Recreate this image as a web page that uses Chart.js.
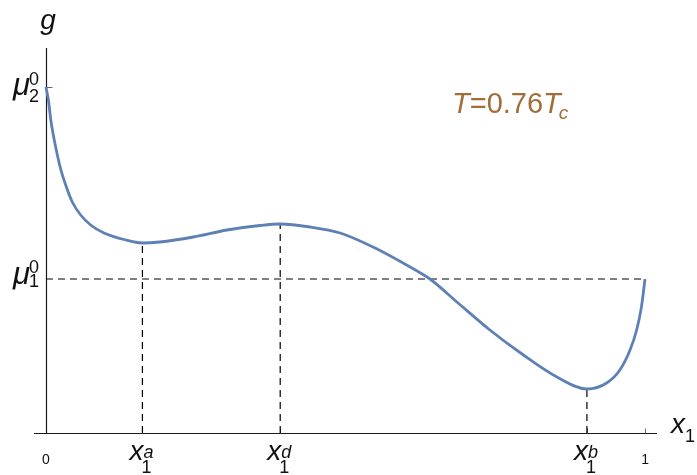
<!DOCTYPE html>
<html>
<head>
<meta charset="utf-8">
<script src="https://cdn.jsdelivr.net/npm/chart.js@4.4.1/dist/chart.umd.min.js"></script>
<style>
  html, body { margin: 0; padding: 0; background: #fff; }
  #wrap { width: 697px; height: 475px; }
</style>
</head>
<body>
<div id="wrap"><canvas id="gChart" width="697" height="475"></canvas></div>
<script>
// curve g(x1)
const curveX = [0, 0.0045, 0.0078, 0.0122, 0.0179, 0.0245, 0.0329, 0.0439, 0.0579, 0.0746, 0.0968, 0.130,
                0.161, 0.190, 0.246, 0.302, 0.357, 0.391, 0.441, 0.491, 0.546, 0.602, 0.641, 0.686,
                0.741, 0.797, 0.853, 0.903, 0.936, 0.958, 0.975, 0.986, 0.994, 1.0];
const curveG = [3.46, 3.31, 3.14, 2.98, 2.81, 2.64, 2.48, 2.31, 2.18, 2.08, 2.00, 1.935,
                1.90, 1.91, 1.96, 2.03, 2.075, 2.09, 2.06, 2.00, 1.86, 1.68, 1.54, 1.31,
                1.03, 0.78, 0.56, 0.44, 0.50, 0.63, 0.83, 1.03, 1.26, 1.54];

// special points
const markNames = ['a', 'd', 'b'];
const markX = [0.161, 0.391, 0.903];
const markG = [1.90, 2.09, 0.44];
const mu1 = 1.54;
const mu2 = 3.46;

// tick labels on x axis
const tickX = [0, 1];
const tickLabels = ['0', '1'];

const curveColor = '#5E81B5';
const axisColor = '#1a1a1a';

const curvePts = curveX.map((x, i) => ({ x: x, y: curveG[i] }));

const dashed = {
  borderColor: '#000',
  borderWidth: 1.2,
  borderDash: [7, 5],
  pointRadius: 0,
  tension: 0,
  fill: false
};

const datasets = [
  {
    label: 'g',
    data: curvePts,
    borderColor: curveColor,
    borderWidth: 2.8,
    pointRadius: 0,
    cubicInterpolationMode: 'monotone',
    fill: false
  },
  Object.assign({ label: 'mu1', data: [{ x: 0, y: mu1 }, { x: 1, y: mu1 }] }, dashed)
];
markX.forEach((mx, i) => {
  datasets.push(Object.assign({ label: 'x' + markNames[i], data: [{ x: mx, y: 0 }, { x: mx, y: markG[i] }] }, dashed));
});

// axes drawn with the chart's own scales
const axesPlugin = {
  id: 'axes',
  beforeDatasetsDraw(chart) {
    const ctx = chart.ctx;
    const xs = chart.scales.x, ys = chart.scales.y;
    const x0 = Math.round(xs.getPixelForValue(0)) + 0.5, y0 = Math.round(ys.getPixelForValue(0)) + 0.5;
    ctx.save();
    ctx.strokeStyle = axisColor;
    ctx.lineWidth = 1.2;
    ctx.beginPath();
    ctx.moveTo(xs.getPixelForValue(xs.min), y0);
    ctx.lineTo(xs.getPixelForValue(xs.max), y0);
    ctx.moveTo(x0, y0);
    ctx.lineTo(x0, ys.getPixelForValue(ys.max));
    ctx.stroke();
    // small ticks
    ctx.strokeStyle = '#666';
    ctx.lineWidth = 1;
    ctx.beginPath();
    [1].concat(markX).forEach(v => {
      const px = Math.round(xs.getPixelForValue(v)) + 0.5;
      ctx.moveTo(px, y0);
      ctx.lineTo(px, y0 - 5);
    });
    const py = Math.round(ys.getPixelForValue(mu2)) + 0.5;
    ctx.moveTo(x0, py);
    ctx.lineTo(x0 + 6, py);
    ctx.stroke();
    ctx.restore();
  },
  afterDraw(chart) {
    const ctx = chart.ctx;
    const xs = chart.scales.x, ys = chart.scales.y;
    const y0 = ys.getPixelForValue(0);
    const big = 'italic 28px "Liberation Sans", Arial, sans-serif';
    const small = '18px "Liberation Sans", Arial, sans-serif';
    const smallIt = 'italic 18px "Liberation Sans", Arial, sans-serif';
    ctx.save();
    ctx.fillStyle = '#111';
    ctx.textBaseline = 'alphabetic';

    // axis names
    ctx.font = big;
    ctx.textAlign = 'center';
    ctx.fillText('g', xs.getPixelForValue(0) + 2, 29);
    ctx.textAlign = 'left';
    ctx.fillText('x', 671, y0);
    ctx.font = small;
    ctx.fillText('1', 685, y0 + 9);

    // tick labels 0 and 1
    ctx.font = '14px "Liberation Sans", Arial, sans-serif';
    ctx.textAlign = 'center';
    tickX.forEach((v, i) => ctx.fillText(tickLabels[i], xs.getPixelForValue(v), y0 + 31));

    // x1^a, x1^d, x1^b
    markX.forEach((v, i) => {
      const px = xs.getPixelForValue(v);
      ctx.textAlign = 'right';
      ctx.font = big;
      ctx.fillText('x', px + 1, y0 + 27);
      ctx.textAlign = 'left';
      ctx.font = small;
      ctx.fillText('1', px - 1, y0 + 40);
      ctx.font = smallIt;
      ctx.fillText(markNames[i], px + 1, y0 + 25);
    });

    // mu labels on the g axis
    const muLabel = (val, sub, dyBase, dySup, dySub) => {
      const py = ys.getPixelForValue(val);
      ctx.textAlign = 'right';
      ctx.font = 'italic 31px "Liberation Sans", Arial, sans-serif';
      ctx.fillText('\u03BC', 30, py + dyBase);
      ctx.textAlign = 'left';
      ctx.font = small;
      ctx.fillText('0', 29, py + dySup);
      ctx.fillText(sub, 29, py + dySub);
    };
    muLabel(mu2, '2', 8, -2, 15);
    muLabel(mu1, '1', 5, -6, 8);

    // temperature note
    ctx.fillStyle = 'rgb(160,110,56)';
    ctx.textAlign = 'left';
    let tx = 452;
    const ty = 113;
    ctx.font = 'italic 29px "Liberation Sans", Arial, sans-serif';
    ctx.fillText('T', tx, ty);
    tx += ctx.measureText('T').width;
    ctx.font = '29px "Liberation Sans", Arial, sans-serif';
    ctx.fillText('=0.76', tx, ty);
    tx += ctx.measureText('=0.76').width;
    ctx.font = 'italic 29px "Liberation Sans", Arial, sans-serif';
    ctx.fillText('T', tx, ty);
    tx += ctx.measureText('T').width;
    ctx.font = 'italic 19px "Liberation Sans", Arial, sans-serif';
    ctx.fillText('c', tx - 2, ty + 6);
    ctx.restore();
  }
};

new Chart(document.getElementById('gChart').getContext('2d'), {
  type: 'line',
  data: { datasets: datasets },
  options: {
    responsive: false,
    animation: false,
    layout: { padding: { left: 34, right: 40, top: 48, bottom: 42 } },
    plugins: { legend: { display: false }, tooltip: { enabled: false } },
    scales: {
      x: { type: 'linear', min: -0.02, max: 1.02, display: false },
      y: { type: 'linear', min: 0, max: 3.85, display: false }
    }
  },
  plugins: [axesPlugin]
});
</script>
</body>
</html>
